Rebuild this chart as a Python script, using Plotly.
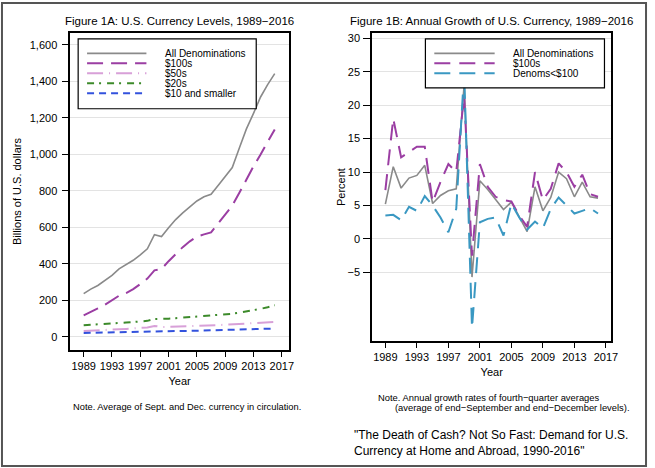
import plotly.graph_objects as go

# data
years = list(range(1989, 2017))

# Figure 1A: levels, billions of U.S. dollars
all_levels = [237, 262, 282, 308, 337, 373, 395, 420, 450, 483, 560, 550, 598, 643,
              680, 712, 745, 768, 782, 830, 877, 928, 1035, 1140, 1225, 1315, 1383, 1443]
hundreds = [118, 139, 156, 176, 200, 226, 240, 262, 290, 320, 365, 372, 415, 455,
            492, 524, 550, 562, 573, 622, 672, 720, 790, 865, 935, 1000, 1070, 1137]
fifties = [33, 34, 35, 37, 39, 42, 44, 46, 49, 52, 60, 55, 55, 56,
           57, 59, 60, 62, 63, 65, 67, 69, 71, 72, 74, 76, 79, 82]
twenties = [64, 66, 69, 72, 74, 77, 79, 82, 85, 88, 98, 97, 100, 103,
            106, 108, 110, 113, 116, 119, 123, 127, 133, 139, 146, 154, 163, 174]
tens_smaller = [22, 23, 23, 24, 25, 26, 27, 27, 28, 29, 32, 31, 31, 32,
                33, 33, 34, 35, 35, 36, 37, 38, 39, 41, 42, 43, 45, 46]

# Figure 1B: annual growth, percent
all_growth = [5.2, 10.8, 7.6, 9.1, 9.5, 11.0, 5.3, 6.5, 7.2, 7.5, 23.0, -5.7, 8.7, 7.4,
              5.9, 4.4, 5.5, 3.3, 1.1, 7.8, 4.2, 6.2, 10.0, 9.0, 6.3, 8.5, 6.3, 6.1]
hundreds_growth = [7.3, 18.0, 12.2, 13.0, 13.8, 13.8, 5.5, 8.5, 11.2, 10.0, 21.5, -2.5, 11.2, 7.8,
                   6.3, 5.8, 5.6, 3.5, 1.8, 10.0, 5.8, 7.5, 11.3, 10.0, 7.8, 9.6, 6.7, 6.3]
small_growth = [3.5, 3.6, 2.8, 4.8, 4.2, 6.4, 5.0, 3.2, 1.0, 4.5, 25.0, -13.3, 2.5, 3.0,
                3.2, 0.5, 5.3, 3.2, 1.4, 2.6, 1.6, 4.5, 6.2, 5.0, 3.8, 4.2, 4.6, 3.8]

xticks = list(range(1989, 2018, 4))
left_yticks = list(range(0, 1601, 200))
right_yticks = list(range(-5, 31, 5))

W, H = 655, 468
FONT = "Liberation Sans, Arial, sans-serif"

GRAY = "#8a8a8a"
PURPLE = "#9b3ea3"
PINK = "#d8a0d8"
GREEN = "#3c8a2a"
BLUE = "#3352dd"
TEAL = "#3a98c2"

left_series = [
    ("All Denominations", all_levels, GRAY, "solid", 1.6),
    ("$100s", hundreds, PURPLE, "16px,8px", 2),
    ("$50s", fifties, PINK, "16px,6px,1px,6px", 2),
    ("$20s", twenties, GREEN, "7px,5px,2px,6px", 2),
    ("$10 and smaller", tens_smaller, BLUE, "7px,5px", 2),
]
right_series = [
    ("All Denominations", all_growth, GRAY, "solid", 1.6),
    ("$100s", hundreds_growth, PURPLE, "16px,9px", 2),
    ("Denoms<$100", small_growth, TEAL, "16px,9px", 2),
]


def px(x):
    return x / W


def py(y):
    return 1 - y / H


fig = go.Figure()

for name, vals, color, dash, width in left_series:
    fig.add_trace(go.Scatter(x=years, y=vals, name=name, mode="lines",
                             line=dict(color=color, dash=dash, width=width),
                             xaxis="x", yaxis="y", showlegend=False))
for name, vals, color, dash, width in right_series:
    fig.add_trace(go.Scatter(x=years, y=vals, name=name, mode="lines",
                             line=dict(color=color, dash=dash, width=width),
                             xaxis="x2", yaxis="y2", showlegend=False))

axis_common = dict(showline=True, linecolor="black", linewidth=1.5, mirror=True,
                   ticks="outside", tickcolor="black", tickfont=dict(size=11, color="black"),
                   zeroline=False)

fig.update_layout(
    width=W, height=H,
    margin=dict(l=0, r=0, t=0, b=0),
    paper_bgcolor="white", plot_bgcolor="white",
    font=dict(family=FONT, color="black"),
    showlegend=False,
    xaxis=dict(domain=[px(71), px(292)], range=[1987.1, 2018.0], anchor="y",
               tickvals=xticks, ticklen=5, showgrid=False,
               title=dict(text="Year", font=dict(size=11), standoff=6), **axis_common),
    yaxis=dict(domain=[py(350), py(32)], range=[-73, 1666], anchor="x",
               tickvals=left_yticks, tickformat=",", ticklen=6,
               showgrid=True, gridcolor="#e3e3e3", gridwidth=1, ticklabelstandoff=3,
               title=dict(text="Billions of U.S. dollars", font=dict(size=11), standoff=6),
               **axis_common),
    xaxis2=dict(domain=[px(376), px(618)], range=[1987.3, 2017.7], anchor="y2",
                tickvals=xticks, ticklen=5, showgrid=False,
                title=dict(text="Year", font=dict(size=11), standoff=6), **axis_common),
    yaxis2=dict(domain=[py(341), py(32)], range=[-15.3, 30.8], anchor="x2",
                tickvals=right_yticks, ticklen=7,
                showgrid=True, gridcolor="#e3e3e3", gridwidth=1, ticklabelstandoff=1,
                title=dict(text="Percent", font=dict(size=11), standoff=0),
                **axis_common),
)

shapes = []
annotations = []

# outer frame
shapes.append(dict(type="rect", xref="paper", yref="paper",
                   x0=px(2), x1=px(653), y0=py(466), y1=py(2),
                   line=dict(color="#555555", width=2)))


def add_legend(box, sample_x, text_x, rows, series):
    x0, x1, y0, y1 = box
    shapes.append(dict(type="rect", xref="paper", yref="paper", layer="above",
                       x0=px(x0), x1=px(x1), y0=py(y1), y1=py(y0),
                       fillcolor="white", line=dict(color="black", width=1.2)))
    for (name, _, color, dash, width), ry in zip(series, rows):
        shapes.append(dict(type="line", xref="paper", yref="paper", layer="above",
                           x0=px(sample_x[0]), x1=px(sample_x[1]), y0=py(ry), y1=py(ry),
                           line=dict(color=color, dash=dash, width=width)))
        annotations.append(dict(text=name, xref="paper", yref="paper",
                                x=px(text_x), y=py(ry), xanchor="left", yanchor="middle",
                                showarrow=False, font=dict(size=10, color="black")))


add_legend((79, 259, 38, 108), (88, 148), 165, [52.5, 62.5, 72.5, 82.5, 92.5], left_series)
add_legend((430, 611, 38, 87), (439, 500), 517, [52.5, 62.5, 72.5], right_series)

annotations += [
    dict(text="Figure 1A: U.S. Currency Levels, 1989\u22122016", x=px(181.5), y=py(20),
         xanchor="center", yanchor="middle", font=dict(size=11.5)),
    dict(text="Figure 1B: Annual Growth of U.S. Currency, 1989\u22122016", x=px(496.5), y=py(20),
         xanchor="center", yanchor="middle", font=dict(size=11.5)),
    dict(text="Note. Average of Sept. and Dec. currency in circulation.", x=px(189.5), y=py(407),
         xanchor="center", yanchor="middle", font=dict(size=9.3)),
    dict(text="Note. Annual growth rates of fourth\u2212quarter averages", x=px(380), y=py(397),
         xanchor="left", yanchor="middle", font=dict(size=9.4)),
    dict(text="(average of end\u2212September and end\u2212December levels).", x=px(397.5), y=py(407),
         xanchor="left", yanchor="middle", font=dict(size=9.4)),
    dict(text="\"The Death of Cash? Not So Fast: Demand for U.S.<br>"
              "Currency at Home and Abroad, 1990-2016\"",
         x=px(356), y=py(443), xanchor="left", yanchor="middle", align="left",
         font=dict(size=12)),
]
for a in annotations[-6:]:
    a.update(xref="paper", yref="paper", showarrow=False)
    a["font"]["color"] = "black"

fig.update_layout(shapes=shapes, annotations=annotations)

# drop the browser's default body margin so the figure fills the window
fig.write_html("out.html", config={"displayModeBar": False},
               post_script="document.body.style.margin='0';"
                           "document.body.style.overflow='hidden';")
